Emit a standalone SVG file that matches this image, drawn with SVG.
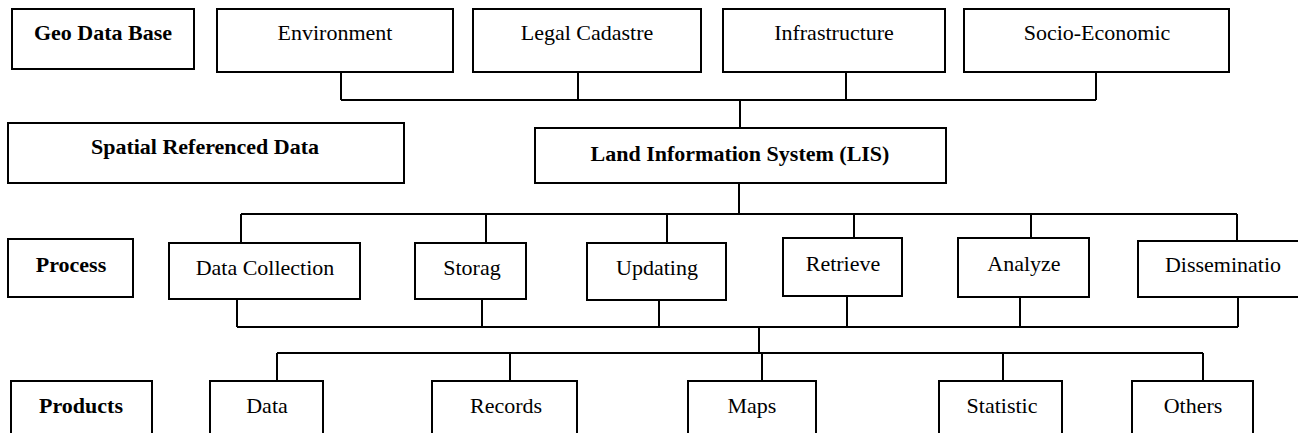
<svg xmlns="http://www.w3.org/2000/svg" width="1298" height="433" viewBox="0 0 1298 433">
<style>
.box{fill:#fff;stroke:#000;stroke-width:2}
.t{font-family:"Liberation Serif","Times New Roman",serif;font-size:22px;fill:#000;text-anchor:middle}
.b{font-weight:bold}
.c{fill:none;stroke:#000;stroke-width:2}
</style>
<rect width="1298" height="433" fill="#fff"/>
<g id="connectors">
<path class="c" d="M341 72V100M578 72V100M846 72V100M1096 72V100M341 100H1096M740 100V128"/>
<path class="c" d="M739 183V214M241 214H1237M241 214V243M486 214V243M667 214V243M854 214V238M1031 214V238M1237 214V241"/>
<path class="c" d="M237 299V327M482 299V327M659 300V327M847 296V327M1020 297V327M1238 297V327M237 327H1238M759 327V353"/>
<path class="c" d="M277 353H1203M277 353V381M510 353V381M762 353V381M1003 353V381M1203 353V381"/>
</g>
<g id="geo-data-base"><rect class="box" x="12" y="9" width="182" height="60"/><text class="t b" x="103" y="40">Geo Data Base</text></g>
<g id="environment"><rect class="box" x="217" y="9" width="236" height="63"/><text class="t" x="335" y="40">Environment</text></g>
<g id="legal-cadastre"><rect class="box" x="473" y="9" width="228" height="63"/><text class="t" x="587" y="40">Legal Cadastre</text></g>
<g id="infrastructure"><rect class="box" x="723" y="9" width="222" height="63"/><text class="t" x="834" y="40">Infrastructure</text></g>
<g id="socio-economic"><rect class="box" x="964" y="9" width="265" height="63"/><text class="t" x="1097" y="40">Socio-Economic</text></g>
<g id="spatial-referenced-data"><rect class="box" x="8" y="123" width="396" height="60"/><text class="t b" x="205" y="154">Spatial Referenced Data</text></g>
<g id="lis"><rect class="box" x="535" y="128" width="411" height="55"/><text class="t b" x="740" y="161">Land Information System (LIS)</text></g>
<g id="process"><rect class="box" x="8" y="239" width="125" height="58"/><text class="t b" x="71" y="272">Process</text></g>
<g id="data-collection"><rect class="box" x="169" y="243" width="191" height="56"/><text class="t" x="265" y="275">Data Collection</text></g>
<g id="storage"><rect class="box" x="415" y="243" width="111" height="56"/><text class="t" x="472" y="275">Storag</text></g>
<g id="updating"><rect class="box" x="587" y="243" width="139" height="57"/><text class="t" x="657" y="275">Updating</text></g>
<g id="retrieve"><rect class="box" x="783" y="238" width="119" height="58"/><text class="t" x="843" y="271">Retrieve</text></g>
<g id="analyze"><rect class="box" x="958" y="238" width="131" height="59"/><text class="t" x="1024" y="271">Analyze</text></g>
<g id="dissemination"><rect class="box" x="1138" y="241" width="172" height="56"/><text class="t" x="1223" y="272">Disseminatio</text></g>
<g id="products"><rect class="box" x="11" y="381" width="141" height="70"/><text class="t b" x="81" y="413">Products</text></g>
<g id="data"><rect class="box" x="210" y="381" width="113" height="70"/><text class="t" x="267" y="413">Data</text></g>
<g id="records"><rect class="box" x="432" y="381" width="145" height="70"/><text class="t" x="506" y="413">Records</text></g>
<g id="maps"><rect class="box" x="688" y="381" width="128" height="70"/><text class="t" x="752" y="413">Maps</text></g>
<g id="statistic"><rect class="box" x="939" y="381" width="123" height="70"/><text class="t" x="1002" y="413">Statistic</text></g>
<g id="others"><rect class="box" x="1132" y="381" width="121" height="70"/><text class="t" x="1193" y="413">Others</text></g>
</svg>
